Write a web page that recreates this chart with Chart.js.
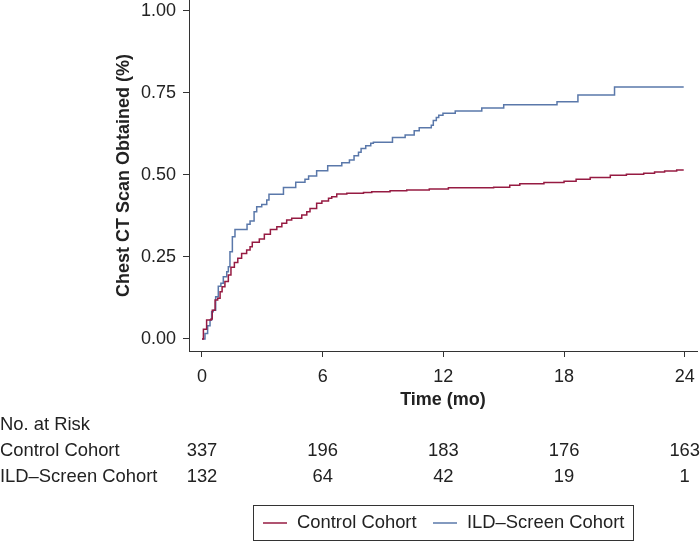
<!DOCTYPE html>
<html>
<head>
<meta charset="utf-8">
<script src="https://cdn.jsdelivr.net/npm/chart.js@4/dist/chart.umd.min.js"></script>
<style>
  html, body { margin: 0; padding: 0; background: #fff; }
  #wrap { width: 700px; height: 541px; }
</style>
</head>
<body>
<div id="wrap"><canvas id="kmChart" width="700" height="541"></canvas></div>
<script>
// Kaplan-Meier style cumulative incidence
var ildTimes = [0, 0.15, 0.28, 0.4, 0.48, 0.56, 0.68, 0.81, 0.94, 1.06, 1.23, 1.31, 1.39, 1.51, 1.64,
  2.24, 2.39, 2.59, 2.72, 2.97, 3.22, 3.33, 4.05, 4.66, 5.12, 5.3, 5.7, 6.25, 6.95, 7.33, 7.56, 7.78,
  7.91, 8.14, 8.39, 8.52, 9.47, 10.1, 10.55, 10.8, 11.4, 11.5, 11.65, 11.77, 11.98, 12.59, 13.91,
  15.0, 17.65, 18.69, 20.51, 23.95];
var ildValues = [0, 0.017, 0.04, 0.058, 0.083, 0.088, 0.129, 0.161, 0.17, 0.19, 0.205, 0.22, 0.266, 0.312, 0.334,
  0.35, 0.36, 0.388, 0.403, 0.41, 0.424, 0.441, 0.462, 0.478, 0.487, 0.497, 0.513, 0.528, 0.537, 0.546, 0.559, 0.569,
  0.581, 0.589, 0.597, 0.6, 0.614, 0.622, 0.635, 0.644, 0.652, 0.666, 0.675, 0.682, 0.688, 0.695, 0.704,
  0.714, 0.723, 0.744, 0.768, 0.768];

var controlTimes = [0, 0.07, 0.23, 0.45, 0.51, 0.65, 0.78, 0.9, 1.0, 1.14, 1.31, 1.44, 1.61, 1.78, 1.97,
  2.22, 2.39, 2.5, 2.85, 3.1, 3.4, 3.72, 3.97, 4.21, 4.46, 4.96, 5.21, 5.37, 5.7, 5.96, 6.29, 6.45, 6.7,
  7.2, 8.03, 8.44, 9.35, 10.18, 11.3, 12.25, 14.5, 15.3, 15.8, 17.0, 18.0, 18.6, 19.3, 20.3, 21.1,
  21.96, 22.5, 23.0, 23.6, 23.95];
var controlValues = [0, 0.03, 0.058, 0.061, 0.088, 0.119, 0.124, 0.144, 0.159, 0.175, 0.195, 0.219, 0.233, 0.246, 0.261,
  0.271, 0.281, 0.295, 0.305, 0.319, 0.334, 0.342, 0.353, 0.363, 0.368, 0.378, 0.388, 0.398, 0.414, 0.421, 0.429, 0.434, 0.442,
  0.444, 0.447, 0.449, 0.452, 0.454, 0.457, 0.461, 0.463, 0.469, 0.473, 0.477, 0.481, 0.487, 0.492, 0.499, 0.502,
  0.505, 0.509, 0.512, 0.515, 0.515];

var xTickValues = [0, 6, 12, 18, 24];
var yTickValues = [0, 0.25, 0.5, 0.75, 1];

var riskTimes = [0, 6, 12, 18, 24];
var controlAtRisk = [337, 196, 183, 176, 163];
var ildAtRisk = [132, 64, 42, 19, 1];

var seriesNames = ['Control Cohort', 'ILD\u2013Screen Cohort'];
var seriesColors = ['#961b42', '#5a78aa'];

function toPoints(times, values) {
  var pts = [];
  for (var i = 0; i < times.length; i++) {
    pts.push({ x: times[i], y: values[i] });
  }
  return pts;
}

var FONT = '"Liberation Sans", Arial, Helvetica, sans-serif';
var AXIS = '#333333';
var TEXT = '#222222';

// risk table + boxed legend under the plot
var riskTablePlugin = {
  id: 'riskTable',
  afterDraw: function(chart) {
    var ctx = chart.ctx;
    var xs = chart.scales.x;
    ctx.save();
    ctx.fillStyle = TEXT;
    ctx.font = '18.4px ' + FONT;
    ctx.textBaseline = 'middle';

    ctx.textAlign = 'left';
    ctx.fillText('No. at Risk', 0, 425);
    ctx.fillText(seriesNames[0], 0, 451);
    ctx.fillText(seriesNames[1], 0, 477);

    ctx.textAlign = 'center';
    for (var i = 0; i < riskTimes.length; i++) {
      var px = xs.getPixelForValue(riskTimes[i]);
      ctx.fillText(String(controlAtRisk[i]), px, 451);
      ctx.fillText(String(ildAtRisk[i]), px, 477);
    }

    // legend box
    ctx.strokeStyle = AXIS;
    ctx.lineWidth = 1;
    ctx.strokeRect(253.5, 505.5, 380, 35);

    ctx.lineWidth = 1.5;
    ctx.strokeStyle = seriesColors[0];
    ctx.beginPath(); ctx.moveTo(263, 523); ctx.lineTo(287, 523); ctx.stroke();
    ctx.strokeStyle = seriesColors[1];
    ctx.beginPath(); ctx.moveTo(433, 523); ctx.lineTo(457, 523); ctx.stroke();

    ctx.textAlign = 'left';
    ctx.fillText(seriesNames[0], 297, 523);
    ctx.fillText(seriesNames[1], 467, 523);
    ctx.restore();
  }
};

var ctx = document.getElementById('kmChart').getContext('2d');
var kmChart = new Chart(ctx, {
  type: 'scatter',
  data: {
    datasets: [{
      label: seriesNames[0],
      data: toPoints(controlTimes, controlValues),
      borderColor: seriesColors[0],
      borderWidth: 1.5,
      showLine: true,
      stepped: 'before',
      pointRadius: 0,
      fill: false
    }, {
      label: seriesNames[1],
      data: toPoints(ildTimes, ildValues),
      borderColor: seriesColors[1],
      borderWidth: 1.5,
      showLine: true,
      stepped: 'before',
      pointRadius: 0,
      fill: false
    }]
  },
  options: {
    responsive: false,
    animation: false,
    layout: { autoPadding: false, padding: { left: 0, right: 3, top: 0, bottom: 0 } },
    plugins: {
      legend: { display: false },
      tooltip: { enabled: false }
    },
    scales: {
      x: {
        type: 'linear',
        min: -0.646,
        max: 24.61,
        afterFit: function(s) {
          s.height = 190;
          s.paddingLeft = 0;
          s.paddingRight = 0;
        },
        afterBuildTicks: function(s) { s.ticks = xTickValues.map(function(v) { return { value: v }; }); },
        ticks: {
          color: TEXT,
          font: { family: FONT, size: 18 },
          padding: 9,
          maxRotation: 0,
          callback: function(v) { return String(v); }
        },
        grid: { drawOnChartArea: false, drawTicks: true, tickLength: 6, color: AXIS },
        border: { display: true, color: AXIS, width: 1 },
        title: {
          display: true,
          text: 'Time (mo)',
          color: TEXT,
          font: { family: FONT, size: 18, weight: 'bold' },
          padding: { top: 0, bottom: 130 }
        }
      },
      y: {
        type: 'linear',
        min: -0.0366,
        max: 1.0335,
        afterFit: function(s) {
          s.width = 189;
          s.paddingTop = 0;
          s.paddingBottom = 0;
        },
        afterBuildTicks: function(s) { s.ticks = yTickValues.map(function(v) { return { value: v }; }); },
        ticks: {
          color: TEXT,
          font: { family: FONT, size: 18 },
          padding: 7,
          callback: function(v) { return Number(v).toFixed(2); }
        },
        grid: { drawOnChartArea: false, drawTicks: true, tickLength: 6, color: AXIS },
        border: { display: true, color: AXIS, width: 1 },
        title: {
          display: true,
          text: 'Chest CT Scan Obtained (%)',
          color: TEXT,
          font: { family: FONT, size: 18, weight: 'bold' },
          padding: { top: 113, bottom: 0 }
        }
      }
    }
  },
  plugins: [riskTablePlugin]
});
</script>
</body>
</html>
